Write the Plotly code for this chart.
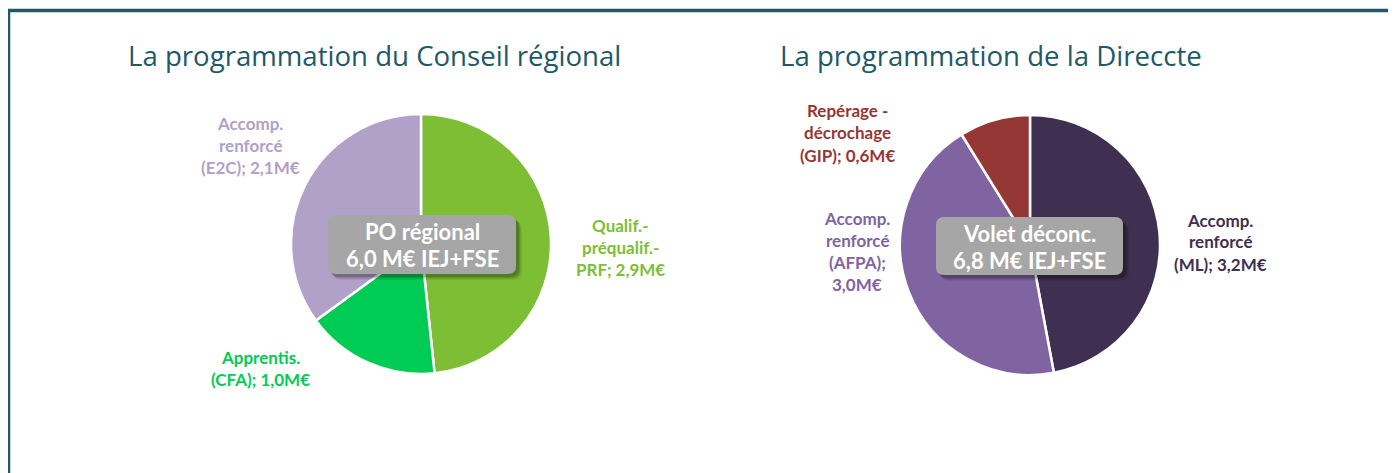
import plotly.graph_objects as go

# The page body has an 8px margin; the figure is sized and placed to compensate.
OFF = 8
W, H = 1396 - OFF, 473 - OFF

# ---- data ----
left_title = "La programmation du Conseil régional"
left_names = ["Qualif.-<br>préqualif.-<br>PRF", "Apprentis.<br>(CFA)", "Accomp.<br>renforcé<br>(E2C)"]
left_values = [2.9, 1.0, 2.1]
left_colors = ["#7DBE35", "#00CC55", "#B1A0C7"]
left_center = ["PO régional", "IEJ+FSE"]

right_title = "La programmation de la Direccte"
right_names = ["Accomp.<br>renforcé<br>(ML)", "Accomp.<br>renforcé<br>(AFPA)", "Repérage -<br>décrochage<br>(GIP)"]
right_values = [3.2, 3.0, 0.6]
right_colors = ["#3F2F50", "#8064A2", "#953735"]
right_center = ["Volet déconc.", "IEJ+FSE"]

# label layout (pixel positions of label centres in the page, and separators)
left_label_pos = [(620, 247), (260, 368), (250, 145)]
left_label_sep = ["; ", "; ", "; "]
right_label_pos = [(1220, 242), (857, 251), (848, 133)]
right_label_sep = ["; ", ";<br>", "; "]

TEAL = "#215968"
FONT = "Lato"
TFONT = "Open Sans"


def fmt(v):
    return f"{v:.1f}".replace(".", ",")


def px(x):
    return (x - OFF) / W


def py(y):
    return 1 - (y - OFF) / H


fig = go.Figure()

pies = [
    (left_names, left_values, left_colors, 421, 244, 130),
    (right_names, right_values, right_colors, 1030, 245, 130),
]
for names, vals, cols, cx, cy, r in pies:
    fig.add_trace(go.Pie(
        labels=[n.replace("<br>", " ") for n in names],
        values=vals,
        sort=False,
        direction="clockwise",
        rotation=0,
        marker=dict(colors=cols, line=dict(color="white", width=2.5)),
        textinfo="none",
        hoverinfo="label+value",
        showlegend=False,
        domain=dict(x=[px(cx - r), px(cx + r)], y=[py(cy + r), py(cy - r)]),
    ))

annotations = []
shapes = []

# titles
for t, x in [(left_title, 374), (right_title, 991)]:
    annotations.append(dict(text=t, x=px(x), y=py(55), xref="paper", yref="paper",
                            showarrow=False, xanchor="center", yanchor="middle",
                            font=dict(family=TFONT, size=27.6, color=TEAL)))


# slice labels
def add_labels(names, vals, cols, pos, seps):
    for n, v, c, (x, y), s in zip(names, vals, cols, pos, seps):
        txt = n + s + fmt(v) + "M€"
        lines = txt.split("<br>")
        step = 22
        y0 = y - step * (len(lines) - 1) / 2
        for i, ln in enumerate(lines):
            annotations.append(dict(text="<b>" + ln + "</b>", x=px(x), y=py(y0 + i * step),
                                    xref="paper", yref="paper", showarrow=False,
                                    xanchor="center", yanchor="middle",
                                    font=dict(family=FONT, size=17, color=c)))


add_labels(left_names, left_values, left_colors, left_label_pos, left_label_sep)
add_labels(right_names, right_values, right_colors, right_label_pos, right_label_sep)


def rrect(x0, y0, x1, y1, r):
    rx, ry = r / W, r / H
    X0, X1 = px(x0), px(x1)
    Y0, Y1 = py(y0), py(y1)  # Y0 top (larger), Y1 bottom
    return (f"M {X0+rx},{Y0} L {X1-rx},{Y0} Q {X1},{Y0} {X1},{Y0-ry} "
            f"L {X1},{Y1+ry} Q {X1},{Y1} {X1-rx},{Y1} L {X0+rx},{Y1} "
            f"Q {X0},{Y1} {X0},{Y1+ry} L {X0},{Y0-ry} Q {X0},{Y0} {X0+rx},{Y0} Z")


boxes = [
    (left_center, sum(left_values), 328, 215, 516, 274),
    (right_center, sum(right_values), 936, 217, 1123, 275),
]
for (l1, l2), total, x0, y0, x1, y1 in boxes:
    for k, op in [(6, 0.06), (5, 0.08), (4, 0.10), (3, 0.14)]:
        shapes.append(dict(type="path", xref="paper", yref="paper",
                           path=rrect(x0 + k - 1, y0 + k, x1 + k, y1 + k, 9),
                           fillcolor=f"rgba(0,0,0,{op})", line=dict(width=0), layer="above"))
    shapes.append(dict(type="path", xref="paper", yref="paper",
                       path=rrect(x0, y0, x1, y1, 8),
                       fillcolor="#A6A6A6", line=dict(width=0), layer="above"))
    cxm = (x0 + x1) / 2
    cym = (y0 + y1) / 2
    annotations.append(dict(text="<b>" + l1 + "</b>", x=px(cxm), y=py(cym - 13),
                            xref="paper", yref="paper", showarrow=False,
                            xanchor="center", yanchor="middle",
                            font=dict(family=FONT, size=22, color="white")))
    annotations.append(dict(text="<b>" + fmt(total) + " M€ " + l2 + "</b>", x=px(cxm), y=py(cym + 14),
                            xref="paper", yref="paper", showarrow=False,
                            xanchor="center", yanchor="middle",
                            font=dict(family=FONT, size=22, color="white")))

# frame
shapes.append(dict(type="line", xref="paper", yref="paper", x0=px(7), x1=1.01,
                   y0=py(10.5), y1=py(10.5), line=dict(color=TEAL, width=3.5)))
shapes.append(dict(type="line", xref="paper", yref="paper", x0=px(8.5), x1=px(8.5),
                   y0=py(9), y1=-0.01, line=dict(color=TEAL, width=3.5)))

fig.update_layout(
    width=W, height=H,
    margin=dict(l=0, r=0, t=0, b=0),
    paper_bgcolor="white", plot_bgcolor="white",
    annotations=annotations, shapes=shapes,
)

fig.write_html("out.html")
